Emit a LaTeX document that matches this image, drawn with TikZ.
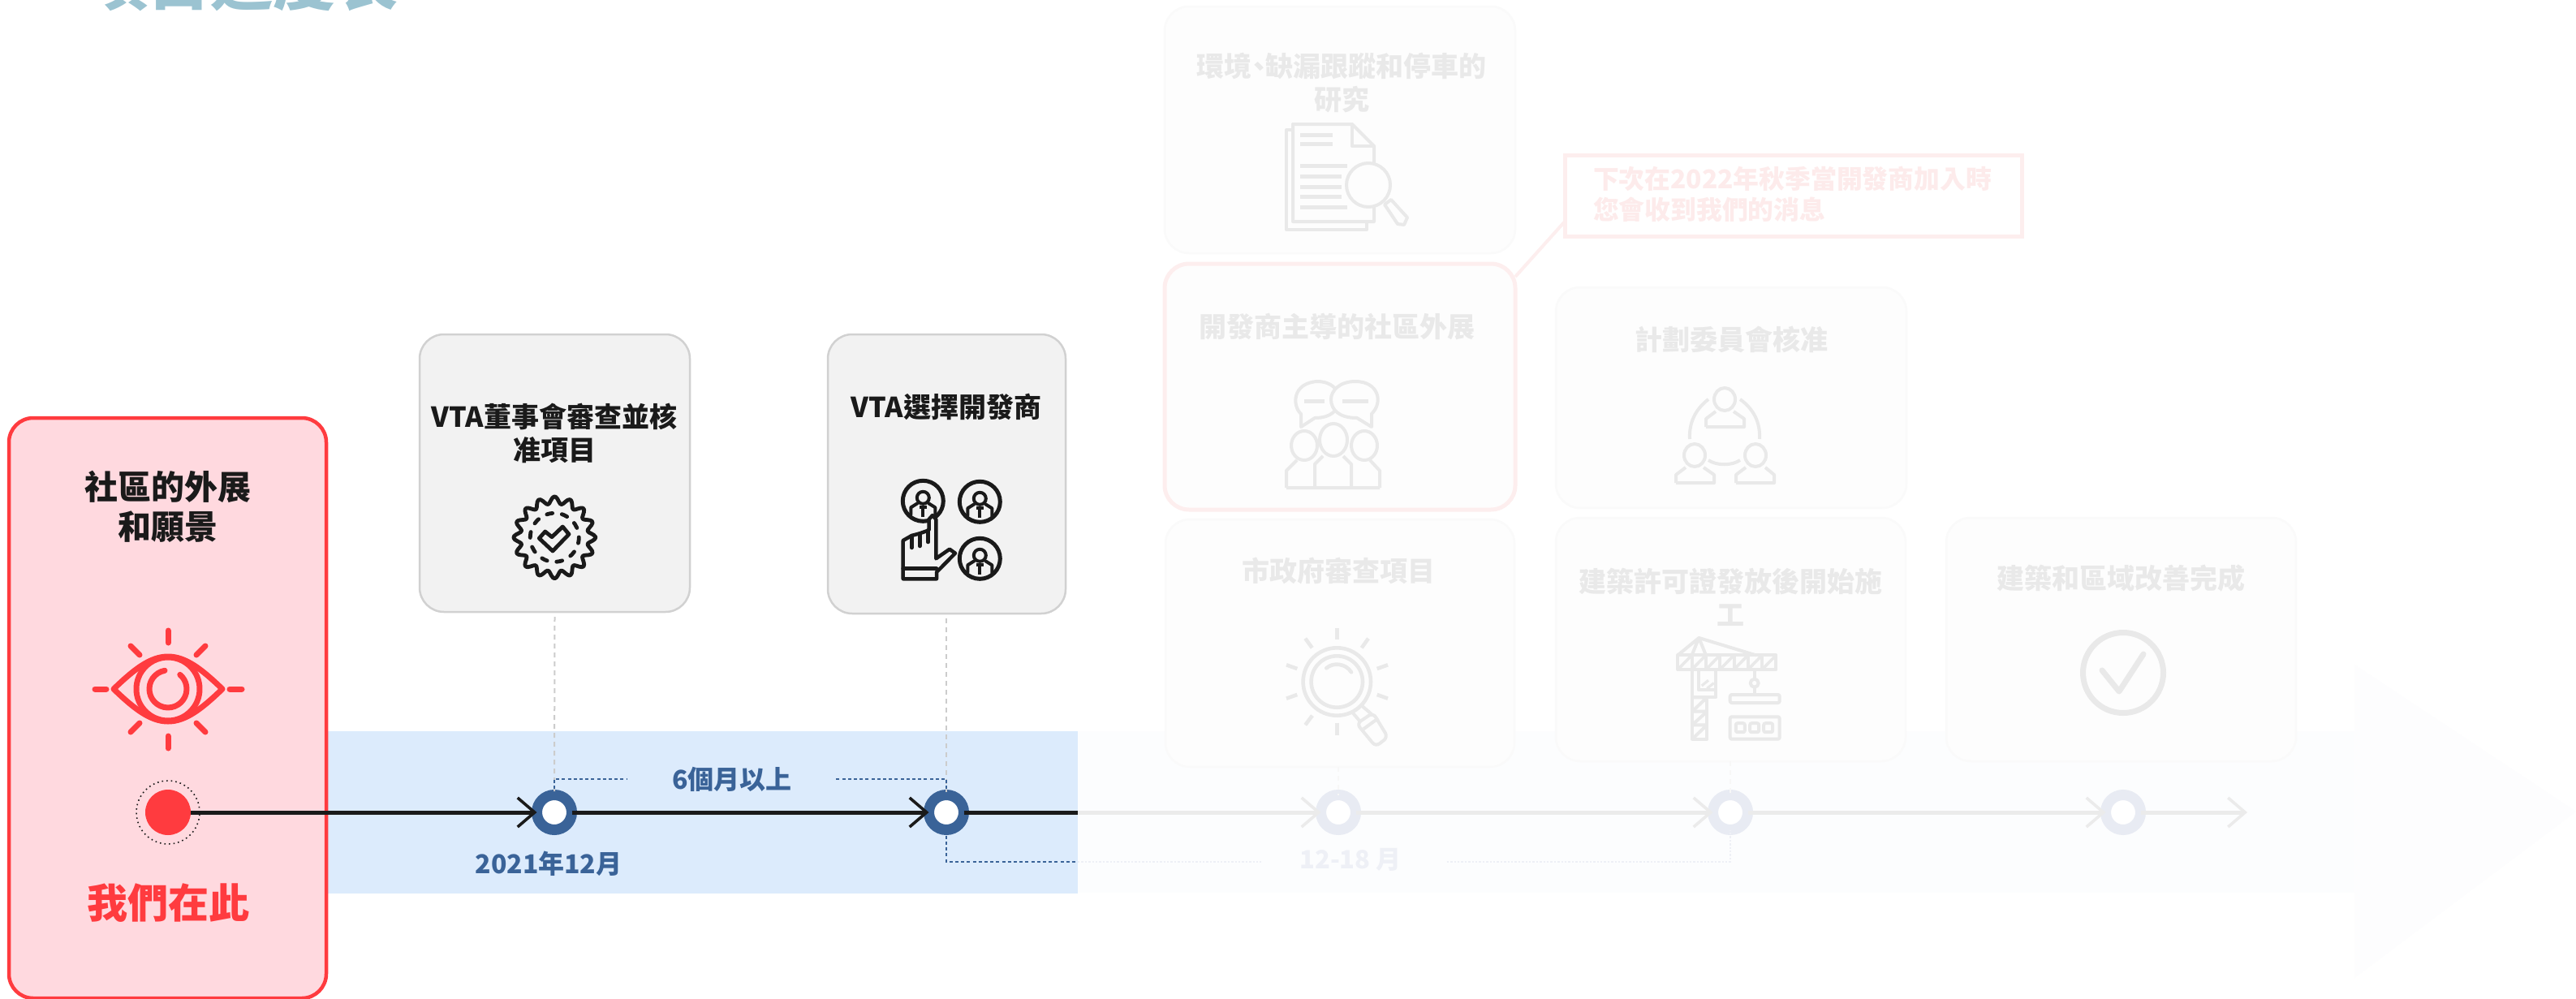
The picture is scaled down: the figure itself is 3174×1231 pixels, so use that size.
\documentclass[tikz,border=0pt]{standalone}
\usepackage{fontspec}
\setmainfont{Noto Sans CJK TC}
\usetikzlibrary{arrows.meta,calc}
\definecolor{redc}{HTML}{FF3B3F}
\definecolor{redfill}{HTML}{FFD9DF}
\definecolor{bandc}{HTML}{DCEBFC}
\definecolor{bandg}{HTML}{FCFDFE}
\definecolor{headg}{HTML}{FDFDFE}
\definecolor{ringc}{HTML}{3A6398}
\definecolor{ringg}{HTML}{E8EBF3}
\definecolor{inkc}{HTML}{1A1A1A}
\definecolor{ghostc}{HTML}{E9E9E9}
\definecolor{ghostline}{HTML}{EBEBEB}
\definecolor{ghostfill}{HTML}{FDFDFD}
\definecolor{ghostedge}{HTML}{FAFAFA}
\definecolor{pinkedge}{HTML}{FDEEEE}
\definecolor{pinktext}{HTML}{FDEBEB}
\definecolor{titlec}{HTML}{9BC3D1}
\definecolor{bluetext}{HTML}{3A6398}
\definecolor{ghostblue}{HTML}{EEF0F6}
\definecolor{boxgray}{HTML}{F2F2F2}
\tikzset{
 txt/.style={inner sep=0pt,outer sep=0pt,align=center,font=\bfseries\fontsize{17}{20.25}\selectfont},
 inktxt/.style={txt,text=inkc},
 ghosttxt/.style={txt,text=ghostc},
 bluelbl/.style={txt,text=bluetext,font=\bfseries\fontsize{16}{20}\selectfont},
 redbox/.style={draw=redc,fill=redfill,line width=2.25pt,rounded corners=15pt,outer sep=0pt,inner sep=0pt,minimum width=195.5pt,minimum height=357.5pt},
 graybox/.style={draw=black!18,fill=boxgray,line width=1.25pt,rounded corners=15pt,outer sep=0pt,inner sep=0pt},
 ghostbox/.style={draw=ghostedge,fill=ghostfill,line width=1.25pt,rounded corners=15pt,outer sep=0pt,inner sep=0pt},
 pinkbox/.style={ghostbox,draw=pinkedge,line width=2.5pt},
 ringnode/.style={circle,draw=ringc,fill=white,line width=6.5pt,minimum size=21.5pt,inner sep=0pt,outer sep=0pt},
 ghostring/.style={ringnode,draw=ringg},
 tline/.style={draw=inkc,line width=2.5pt},
 gline/.style={draw=ghostline,line width=2.5pt},
 chev/.style={-{Straight Barb[length=10.5pt,width=18pt,line width=1.8pt]}},
 graydash/.style={draw=black!20,line width=1pt,dash pattern=on 3pt off 2.5pt},
 ghostdash/.style={draw=black!3,line width=1pt,dash pattern=on 3pt off 2.5pt},
 bluedash/.style={draw=ringc,line width=1pt,dash pattern=on 2pt off 1.6pt},
 bluedashg/.style={draw=ghostblue,line width=1pt,dash pattern=on 1.2pt off 1pt},
 ic/.style={draw=inkc,line width=2.4pt,line cap=round,line join=round,fill=none},
 icred/.style={draw=redc,line width=3.5pt,line cap=round,line join=round},
 icg/.style={draw=ghostc,line width=2pt,line join=round,fill=none},
}
\begin{document}
\begin{tikzpicture}[x=0.5pt,y=-0.5pt]
\useasboundingbox (0,0) rectangle (3174,1231);
\fill[white] (0,0) rectangle (3174,1231);
% title
\node[txt,text=titlec,anchor=center,font=\bfseries\fontsize{38.5}{40}\selectfont] (title) at (298,-23) {項目進度表};
% band + ghost arrow
\fill[headg] (2901,819) -- (3174,1000) -- (2901,1205) -- cycle;
\fill[bandg] (1328,901) rectangle (2901,1100);
\fill[bandc] (402,901) rectangle (1328,1101);
% ghost boxes
\node[ghostbox,minimum width=216pt,minimum height=152pt] (ba) at (1651,160) {};
\node[pinkbox,minimum width=216pt,minimum height=151.5pt] (bb) at (1651,476.5) {};
\node[ghostbox,minimum width=216pt,minimum height=136pt] (bc) at (2133,490) {};
\node[ghostbox,minimum width=215pt,minimum height=152.5pt] (bd) at (1651,792.5) {};
\node[ghostbox,minimum width=215.5pt,minimum height=150pt] (be) at (2132.5,788) {};
\node[ghostbox,minimum width=215.5pt,minimum height=150pt] (bf) at (2613.5,788) {};
\node[draw=pinkedge,line width=2.5pt,fill=white,outer sep=0pt,inner sep=0pt,minimum width=281.5pt,minimum height=50pt] (co) at (2209.5,241) {};
\coordinate (cob) at (1928,273);
\coordinate (bbc) at (1867,341);
\draw[draw=pinkedge,line width=2pt] (bbc) -- (cob);
% ghost texts
\node[ghosttxt] (ta) at (1653,102) {環境\kern-.25em、\kern-.25em缺漏跟蹤和停車的\\研究};
\node[ghosttxt] (tb) at (1647,403) {開發商主導的社區外展};
\node[ghosttxt] (tc) at (2133,418) {計劃委員會核准};
\node[ghosttxt] (td) at (1649,703) {市政府審查項目};
\node[ghosttxt] (te) at (2132,736) {建築許可證發放後開始施\\工};
\node[ghosttxt] (tf) at (2613,713) {建築和區域改善完成};
\node[txt,text=pinktext,anchor=west,align=left,font=\bfseries\fontsize{15.9}{19}\selectfont] (tco) at (1963,239) {下次在2022年秋季當開發商加入時\\您會收到我們的消息};
% red and gray boxes
\node[redbox] (red) at (206.5,872.5) {};
\node[graybox,minimum width=166.5pt,minimum height=171pt] (g1) at (683.5,583) {};
\node[graybox,minimum width=146.5pt,minimum height=172pt] (g2) at (1166.5,584) {};
\node[inktxt,font=\bfseries\fontsize{20.5}{24.5}\selectfont] (tred) at (207,624) {社區的外展\\和願景};
\node[txt,text=redc,font=\bfseries\fontsize{25}{30}\selectfont] (here) at (207,1113) {我們在此};
\node[inktxt] (t1) at (683,534) {VTA董事會審查並核\\准項目};
\node[inktxt] (t2) at (1166,501) {VTA選擇開發商};
% timeline nodes
\node[circle,fill=redc,minimum size=28pt,inner sep=0pt,outer sep=0pt] (n0) at (207,1001) {};
\node[circle,draw=inkc,line width=0.8pt,dotted,minimum size=39pt,inner sep=0pt,outer sep=0pt] (r0) at (207,1001) {};
\node[ringnode] (n1) at (683,1001) {};
\node[ringnode] (n2) at (1166,1001) {};
\node[ghostring] (n3) at (1649,1001) {};
\node[ghostring] (n4) at (2132,1001) {};
\node[ghostring] (n5) at (2616,1001) {};
\coordinate (e1) at (1328,1001);
\coordinate (e2) at (2769,1001);
\draw[tline,chev] (n0) -- (n1);
\draw[tline,chev] (n1) -- (n2);
\draw[tline] (n2) -- (e1);
\draw[gline,chev] (e1) -- (n3);
\draw[gline,chev] (n3) -- (n4);
\draw[gline,chev] (n4) -- (n5);
\draw[gline,chev] (n5) -- (e2);
% labels
\node[bluelbl] (d1) at (676,1064) {2021年12月};
\node[bluelbl] (d2) at (902,960) {6個月以上};
\node[txt,text=ghostblue,font=\bfseries\fontsize{15.5}{20}\selectfont] (d3) at (1664,1059) {12-18 月};
% dashed connectors
\draw[graydash] ([yshift=-3pt]g1.south) -- (n1.north);
\draw[graydash] ([yshift=-3pt]g2.south -| n2.north) -- (n2.north);
\draw[ghostdash] (bd.south -| n3.north) -- (n3.north);
\draw[ghostdash] (be.south -| n4.north) -- (n4.north);
\draw[bluedash,shorten >=28pt] (n1.north) |- (d2.west);
\draw[bluedash,shorten >=26pt] (n2.north) |- (d2.east);
\coordinate (e3) at (1328,1062);
\draw[bluedash] (n2.south) |- (e3);
\draw[bluedashg,shorten >=23.5pt] (e3) -- (d3.west |- e3);
\draw[bluedashg] ($(d3.east |- e3)+(56,0)$) -| (n4.south);
% eye icon
\draw[icred] (140,849) .. controls (165,825) and (185,809) .. (207,809) .. controls (229,809) and (249,825) .. (274,849) .. controls (249,873) and (229,889) .. (207,889) .. controls (185,889) and (165,873) .. (140,849) -- cycle;
\draw[icred] (207,849) circle (39);
\draw[icred] (203,826.3) arc (-100:-410:23);
\draw[icred] (207,777) -- (207,792);
\draw[icred] (207,907) -- (207,922);
\draw[icred] (117,849) -- (131,849);
\draw[icred] (283,849) -- (298,849);
\draw[icred] (161,796) -- (172,807);
\draw[icred] (253,796) -- (242,807);
\draw[icred] (161,902) -- (172,891);
\draw[icred] (253,902) -- (242,891);
% badge icon
\draw[ic] plot[domain=0:359,samples=145,smooth cycle] ({683.3+(46+4.5*cos(16*\x))*cos(\x)},{662.3+(46+4.5*cos(16*\x))*sin(\x)});
\draw[ic,dash pattern=on 3.5pt off 5.9pt] (683.3,662.3) circle (30);
\draw[ic] (664.3,663.3) -- (681,679) -- (701,658.3) -- (693.3,649) -- (680,661.7) -- (671.7,655) -- cycle;
% hand icon
\foreach \cx/\cy in {1137.3/617.3,1207.3/618.3,1207.3/688.3}{
 \draw[ic,line width=2.5pt] (\cx,\cy) circle (25);
 \draw[ic,line width=2pt] (\cx,\cy-4) circle (7.5);
 \draw[ic,line width=2pt] (\cx-15,\cy+17) -- (\cx-15,\cy+8) -- (\cx-7,\cy+3) (\cx+7,\cy+3) -- (\cx+15,\cy+8) -- (\cx+15,\cy+17);
 \fill[inkc] (\cx-4.5,\cy+6) rectangle (\cx+4.5,\cy+10);
 \fill[inkc] (\cx-2,\cy+9) rectangle (\cx+2,\cy+20);
}
\filldraw[draw=inkc,fill=boxgray,line width=2.25pt,line join=round,line cap=round] (1112.7,713.3) -- (1112.7,666) -- (1123.3,660) -- (1133.3,657.3) -- (1144.5,653.3) -- (1144.5,640) -- (1149,635) -- (1153.3,640) -- (1153.3,688.3) -- (1170,676.7) -- (1177,681.7) -- (1154,705) -- (1154,713.3) -- cycle;
\draw[ic,line width=2.25pt] (1112.7,700.7) -- (1154,700.7);
\draw[ic,line width=2.25pt] (1123.3,660) -- (1123.3,675) (1133.3,657.3) -- (1133.3,673) (1143.5,653.3) -- (1143.5,668);
% doc icon
\draw[icg] (1593,160) -- (1585,160) -- (1585,283) -- (1684,283) -- (1684,273);
\draw[icg] (1693,205) -- (1693,273) -- (1593,273) -- (1593,153) -- (1666,153) -- (1693,180) -- (1693,205);
\draw[icg] (1666,153) -- (1666,180) -- (1693,180);
\foreach \a/\b/\c in {1602/1642/166.5,1602/1642/177.5,1602/1660/204,1602/1653/217,1602/1653/230,1602/1653/242,1602/1660/255}{\draw[icg,line width=2.5pt] (\a,\c) -- (\b,\c);}
\filldraw[icg,fill=ghostfill] (1686,228) circle (27);
\filldraw[icg,fill=ghostfill] (1706,252) -- (1714,246) -- (1734,268) -- (1730,277) -- (1722,276) -- cycle;
% people icon
\draw[icg] (1603,526) -- (1603,510) .. controls (1592,500) and (1592,472) .. (1623,470) .. controls (1640,470) and (1650,480) .. (1650,492) .. controls (1650,505) and (1640,515) .. (1620,515) -- cycle;
\filldraw[icg,fill=ghostfill] (1690,526) -- (1690,510) .. controls (1705,495) and (1698,470) .. (1670,470) .. controls (1650,470) and (1640,482) .. (1640,492) .. controls (1640,505) and (1650,515) .. (1672,515) -- cycle;
\draw[icg,line width=2.5pt] (1607,494) -- (1632,494) (1654,494) -- (1686,494);
\draw[icg] (1607,549) ellipse (16 and 18) (1681,549) ellipse (16 and 18) (1643,542) ellipse (17 and 20);
\draw[icg] (1585,601) -- (1585,580) -- (1598,567) (1700,601) -- (1700,580) -- (1688,567) (1620,601) -- (1620,572) -- (1630,562) (1665,601) -- (1665,572) -- (1655,562) (1585,601) -- (1700,601);
% committee icon
\draw[icg] (2125,492) ellipse (13 and 14);
\draw[icg] (2102,526) -- (2102,516) -- (2114,507) (2136,507) -- (2149,516) -- (2149,526) -- (2102,526);
\draw[icg] (2105,492) .. controls (2088,505) and (2081,522) .. (2082,541) (2144,492) .. controls (2162,505) and (2169,522) .. (2168,541);
\draw[icg] (2088,561) ellipse (13 and 14) (2163,561) ellipse (13 and 14);
\draw[icg] (2065,595) -- (2065,585) -- (2077,576) (2099,576) -- (2112,585) -- (2112,595) -- (2065,595);
\draw[icg] (2139,595) -- (2139,585) -- (2151,576) (2175,576) -- (2186,585) -- (2186,595) -- (2139,595);
\draw[icg] (2105,567) .. controls (2115,574) and (2134,574) .. (2144,567);
% sun magnifier
\draw[icg,line width=2.3pt] (1647.3,840) circle (41.7) (1647.3,840) circle (31.7);
\draw[icg,line width=2.3pt,line cap=round] (1634.3,823.3) .. controls (1642,816) and (1658,817) .. (1665,828.3);
\foreach \a/\b/\c/\d in {1647.3/774/1647.3/788.3,1647.3/890.7/1647.3/906,1608.3/786.7/1616.7/798.3,1686/786.7/1677.7/798.3,1585/819.3/1598.3/824,1710/819.3/1696.7/824,1585/860.7/1598.3/856,1710/860.7/1696.7/856,1608.3/893.3/1617/881.7}{\draw[icg,line width=2.3pt] (\a,\b) -- (\c,\d);}
\draw[icg] (1666.7,878.3) -- (1676.7,890) (1678.3,870) -- (1690,880);
\draw[icg,rounded corners=3pt] (1671.7,891.7) -- (1691.7,878.3) -- (1710,908.3) -- (1695,920) -- cycle;
\draw[icg] (1680,898.3) -- (1698.3,885);
% crane
\draw[icg] (2067.3,807.3) rectangle (2188.3,825);
\foreach \k in {2084.6,2101.9,2119.2,2136.5,2153.8,2171.1}{\draw[icg] (\k,807.3) -- (\k,825);}
\foreach \k in {2067.3,2084.6,2101.9,2119.2,2136.5,2153.8,2171.1}{\draw[icg,line width=1.8pt] (\k,825) -- (\k+17.3,807.3);}
\draw[icg] (2067.3,807.3) -- (2093.3,786) -- (2163.3,807.3) (2084.6,807.3) -- (2093.3,786) -- (2101.9,807.3);
\draw[icg] (2085,825) -- (2085,910.7) -- (2103.3,910.7) -- (2103.3,859.3);
\draw[icg] (2085,859.3) -- (2114,859.3) -- (2114,825);
\draw[icg] (2092.7,825) -- (2092.7,850) -- (2113,850);
\draw[icg,line width=1.6pt] (2096.7,845) -- (2105,838.3) (2103.3,848.3) -- (2111.7,841.7);
\foreach \k/\m in {859.3/876.7,876.7/893.3,893.3/910.7}{\draw[icg] (2085,\k) -- (2103.3,\k) (2085,\m) -- (2103.3,\k);}
\draw[icg] (2161.7,825) -- (2161.7,856);
\filldraw[icg,fill=ghostfill] (2161.7,841.7) circle (5);
\draw[icg,rounded corners=1pt] (2131.7,856) rectangle (2192.7,866) (2131.7,883.3) rectangle (2192.7,910.7);
\foreach \k in {2144.3,2161.7,2178.7}{\draw[icg,rounded corners=1pt] (\k-5.5,891.2) rectangle (\k+5.5,902.2);}
% check
\draw[icg,line width=3.5pt] (2616,829) circle (49.5);
\draw[icg,line width=3.5pt,line cap=round] (2590,826) -- (2611,852) -- (2641,806);
\end{tikzpicture}
\end{document}
